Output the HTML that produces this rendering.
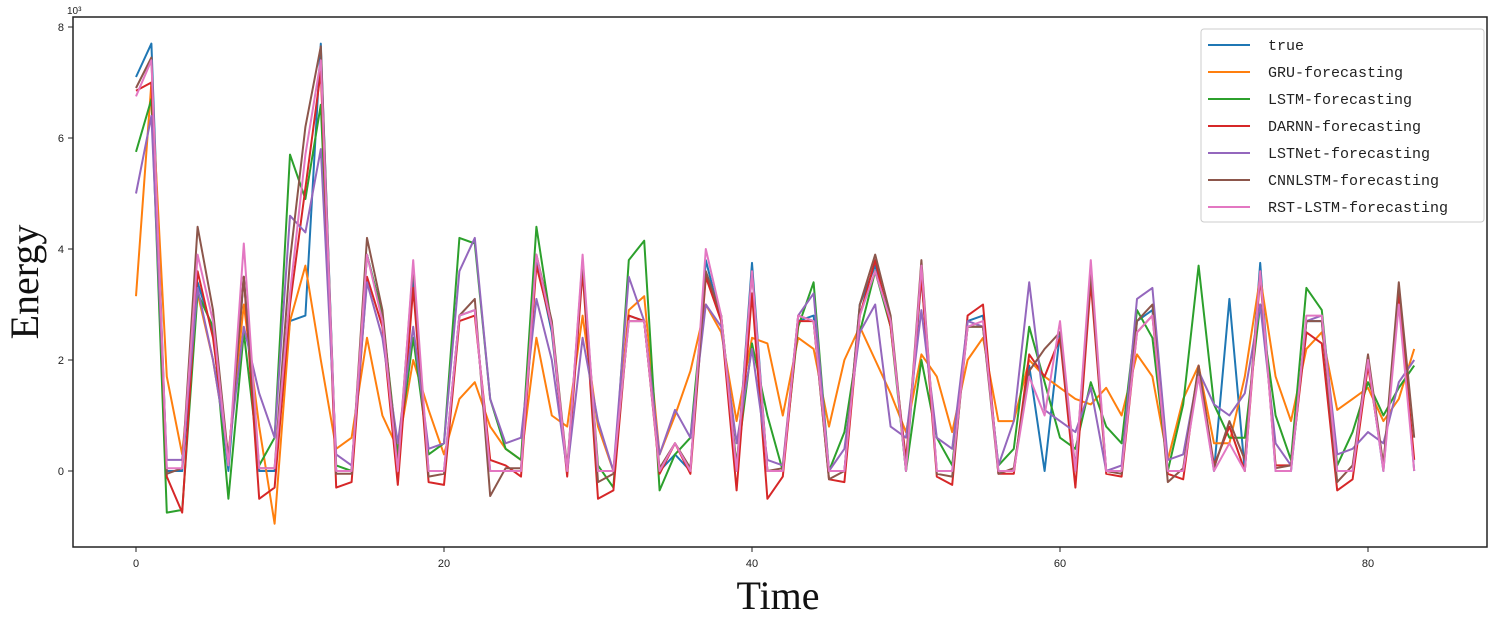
<!DOCTYPE html>
<html><head><meta charset="utf-8"><style>
body{margin:0;background:#fff;width:1505px;height:617px;overflow:hidden}
svg text{font-family:"Liberation Sans",sans-serif}
</style></head><body>
<svg id="chart" width="1505" height="617" viewBox="0 0 1505 617" xmlns="http://www.w3.org/2000/svg">
<rect x="73" y="17" width="1414" height="530" fill="#fff" stroke="#222" stroke-width="1.5"/>
<g id="series"></g>
<g id="axes"></g>
<text x="67" y="14" font-size="10" fill="#222">10³</text>
<text transform="translate(38,282) rotate(-90)" text-anchor="middle" font-size="40" style="font-family:'Liberation Serif',serif" fill="#111">Energy</text>
<text x="778" y="609" text-anchor="middle" font-size="40" style="font-family:'Liberation Serif',serif" fill="#111">Time</text>
<g id="legend"></g>
</svg>
<script>
const names=["true","GRU-forecasting","LSTM-forecasting","DARNN-forecasting","LSTNet-forecasting","CNNLSTM-forecasting","RST-LSTM-forecasting"];
const colors=["#1f77b4","#ff7f0e","#2ca02c","#d62728","#9467bd","#8c564b","#e377c2"];
const xTicks=[0,20,40,60,80];
const yTicks=[0,2,4,6,8];
const trueVals=[7.1,7.7,0,0,3.4,2.5,0,3.5,0,0,2.7,2.8,7.7,0,0,3.9,2.8,0,3.5,0,0,2.8,2.9,0,0,0,3.8,2.5,0,3.8,0,0,2.8,2.7,0,0.3,0,3.8,2.7,0,3.75,0,0,2.7,2.8,0,0,3,3.7,2.7,0,3.5,0,0,2.7,2.8,0,0,1.9,0,2.5,0,3.5,0,0,2.7,2.9,0,0,1.8,0,3.1,0,3.75,0,0,2.7,2.7,0,0,2.0,0,3.3,0];
const gruVals=[3.15,7.0,1.7,0.3,3.2,2.0,0.3,3.0,0.8,-0.95,2.7,3.7,2.0,0.4,0.6,2.4,1.0,0.4,2.0,1.1,0.3,1.3,1.6,0.8,0.4,0.2,2.4,1.0,0.8,2.8,0.8,0,2.9,3.15,0.3,1.0,1.8,3.0,2.5,0.9,2.4,2.3,1.0,2.4,2.2,0.8,2.0,2.6,2.0,1.4,0.7,2.1,1.7,0.7,2.0,2.4,0.9,0.9,2.0,1.7,1.5,1.3,1.2,1.5,1.0,2.1,1.7,0.2,1.3,1.9,0.5,0.5,1.7,3.5,1.7,0.9,2.2,2.5,1.1,1.3,1.5,0.9,1.3,2.2];
const lstmVals=[5.75,6.7,-0.75,-0.7,3.2,2.6,-0.5,2.5,0.1,0.6,5.7,4.9,6.6,0.1,0,3.9,2.8,0.3,2.4,0.3,0.5,4.2,4.1,1.3,0.4,0.2,4.4,2.6,0,3.7,0.1,-0.3,3.8,4.15,-0.35,0.3,0.6,3.5,2.8,0.1,2.3,1.0,0,2.6,3.4,0,0.7,2.5,3.6,2.6,0,2.0,0.6,0.1,2.6,2.6,0.1,0.4,2.6,1.6,0.6,0.4,1.6,0.8,0.5,2.9,2.4,0,1.2,3.7,1.2,0.6,0.6,3.0,1.0,0.2,3.3,2.9,0.1,0.7,1.6,1.0,1.5,1.9];
const darnnVals=[6.85,7.0,-0.1,-0.75,3.6,2.4,0.2,3.5,-0.5,-0.3,3.0,5.1,7.2,-0.3,-0.2,3.5,2.6,-0.25,3.3,-0.2,-0.25,2.7,2.8,0.2,0.1,-0.1,3.7,2.6,-0.1,3.6,-0.5,-0.35,2.8,2.7,-0.05,0.5,-0.05,3.5,2.7,-0.35,3.2,-0.5,-0.1,2.7,2.7,-0.15,-0.2,2.8,3.8,2.6,0.2,3.5,-0.1,-0.25,2.8,3.0,-0.05,-0.05,2.1,1.7,2.4,-0.3,3.4,-0.05,-0.1,2.5,2.8,-0.05,-0.15,1.9,0.1,0.8,0,3.5,0.1,0.1,2.5,2.3,-0.35,-0.15,1.9,0.1,3.2,0.2];
const lstnetVals=[5.0,6.4,0.2,0.2,3.3,2.0,0.3,2.6,1.4,0.6,4.6,4.3,5.8,0.3,0.1,3.4,2.4,0.5,2.6,0.4,0.5,3.6,4.2,1.3,0.5,0.6,3.1,2.0,0,2.4,0.9,0,3.5,2.7,0.3,1.1,0.6,3.0,2.6,0.5,2.2,0.2,0.1,2.8,3.2,0,0.4,2.5,3.0,0.8,0.6,2.9,0.6,0.4,2.7,2.6,0.1,0.9,3.4,1.1,0.9,0.7,1.5,0,0.1,3.1,3.3,0.2,0.3,1.8,1.2,1.0,1.4,3.0,0.5,0.1,2.7,2.8,0.3,0.4,0.7,0.5,1.6,2.0];
const cnnVals=[6.9,7.45,-0.05,0.05,4.4,2.9,0.2,3.5,0.05,0.05,3.8,6.2,7.65,-0.05,-0.05,4.2,2.9,0.1,3.7,-0.1,-0.05,2.8,3.1,-0.45,0.05,0.05,3.9,2.7,0.05,3.8,-0.2,-0.05,2.7,2.7,0.05,0.5,0.05,3.6,2.8,0.05,3.6,0,0.05,2.8,2.7,-0.15,0,3.0,3.9,2.8,0.05,3.8,-0.05,-0.1,2.6,2.6,-0.05,0.05,1.8,2.2,2.5,0.05,3.6,0,-0.05,2.7,3.0,-0.2,0.05,1.9,0.05,0.9,0.2,3.6,0.05,0.1,2.7,2.7,-0.2,0.1,2.1,0.1,3.4,0.6];
const rstVals=[6.75,7.4,0.05,0.05,3.9,2.7,0.1,4.1,0.05,0.05,3.2,5.7,7.4,0,0,3.9,2.7,0,3.8,0,0,2.8,2.9,0,0,0,3.9,2.6,0,3.9,0,0,2.7,2.7,0,0.5,0,4.0,2.8,0,3.6,0,0,2.8,2.7,0,0,2.8,3.6,2.7,0,3.7,0,0,2.6,2.7,0,0,1.7,1.0,2.7,0,3.8,0,0,2.5,2.8,0,0,1.7,0,0.5,0,3.6,0,0,2.8,2.8,0,0,2.0,0,3.0,0];
const seriesData=[trueVals,gruVals,lstmVals,darnnVals,lstnetVals,cnnVals,rstVals];
const X=v=>136+v*(1368-136)/80;
const Y=v=>471-v*55.5;
const NS="http://www.w3.org/2000/svg";
const sg=document.getElementById('series');
const keys=["true","gru","lstm","darnn","lstnet","cnnlstm","rst-lstm"];
seriesData.forEach((arr,i)=>{
  const p=document.createElementNS(NS,'polyline');
  p.setAttribute('points',arr.map((v,j)=>X(j).toFixed(1)+','+Y(v).toFixed(1)).join(' '));
  p.setAttribute('fill','none');p.setAttribute('stroke',colors[i]);p.setAttribute('stroke-width','2');p.setAttribute('stroke-linejoin','round');
  
  
  sg.appendChild(p);
});
const ax=document.getElementById('axes');
xTicks.forEach(t=>{
  const l=document.createElementNS(NS,'line');
  l.setAttribute('x1',X(t));l.setAttribute('x2',X(t));l.setAttribute('y1',547);l.setAttribute('y2',552);l.setAttribute('stroke','#222');
  
  
  ax.appendChild(l);
  const tx=document.createElementNS(NS,'text');
  tx.setAttribute('x',X(t));tx.setAttribute('y',567);tx.setAttribute('text-anchor','middle');tx.setAttribute('font-size','11');tx.setAttribute('fill','#222');
  tx.textContent=t;
  
  
  ax.appendChild(tx);
});
yTicks.forEach(t=>{
  const l=document.createElementNS(NS,'line');
  l.setAttribute('x1',68);l.setAttribute('x2',73);l.setAttribute('y1',Y(t));l.setAttribute('y2',Y(t));l.setAttribute('stroke','#222');
  
  
  ax.appendChild(l);
  const tx=document.createElementNS(NS,'text');
  tx.setAttribute('x',64);tx.setAttribute('y',Y(t)+4);tx.setAttribute('text-anchor','end');tx.setAttribute('font-size','11');tx.setAttribute('fill','#222');
  tx.textContent=t;
  
  
  ax.appendChild(tx);
});
const lg=document.getElementById('legend');
const box=document.createElementNS(NS,'rect');
box.setAttribute('x',1201);box.setAttribute('y',29);box.setAttribute('width',283);box.setAttribute('height',193);box.setAttribute('rx',3);
box.setAttribute('fill','#fff');box.setAttribute('stroke','#ccc');


lg.appendChild(box);
names.forEach((n,i)=>{
  const y=45+i*27;
  const l=document.createElementNS(NS,'line');
  l.setAttribute('x1',1208);l.setAttribute('x2',1250);l.setAttribute('y1',y);l.setAttribute('y2',y);l.setAttribute('stroke',colors[i]);l.setAttribute('stroke-width','2');
  
  
  lg.appendChild(l);
  const tx=document.createElementNS(NS,'text');
  tx.setAttribute('x',1268);tx.setAttribute('y',y+5);tx.setAttribute('font-size','15');tx.setAttribute('fill','#222');
  tx.setAttribute('style','font-family:"Liberation Mono",monospace');
  tx.textContent=n;
  
  
  lg.appendChild(tx);
});
</script>
</body></html>
